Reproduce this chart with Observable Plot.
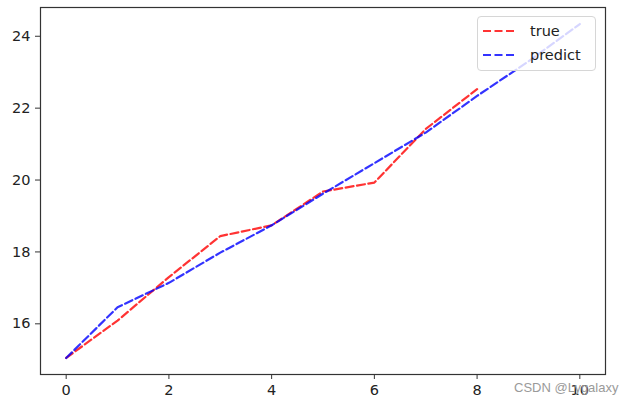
<!DOCTYPE html>
<html>
<head>
<meta charset="utf-8">
<script src="https://cdn.jsdelivr.net/npm/d3@7"></script>
<script src="https://cdn.jsdelivr.net/npm/@observablehq/plot@0.6"></script>
<style>
  html, body { margin: 0; padding: 0; background: #fff; }
  #wrap { position: relative; width: 631px; height: 405px; font-family: "DejaVu Sans", sans-serif; }
  #legend { position: absolute; left: 477px; top: 16px; width: 119px; height: 55px;
    background: rgba(255,255,255,0.8); border: 1px solid #d6d6d6; border-radius: 4px; box-sizing: border-box; }
  .item { position: absolute; left: 5px; height: 20px; display: flex; align-items: center; font-size: 14.5px; color: #222; }
  .item svg { margin-right: 13px; }
  #wm { position: absolute; left: 514px; top: 380px; font-family: "Liberation Sans", Arial, sans-serif; font-size: 13px; color: #9a9a9a; }
</style>
</head>
<body>
<div id="wrap"></div>
<script>
const xs = [0, 1, 2, 3, 4, 5, 6, 7, 8, 9, 10];
const trueVals = [15.05, 16.09, 17.30, 18.44, 18.74, 19.68, 19.93, 21.42, 22.53];
const predictVals = [15.05, 16.46, 17.14, 17.98, 18.74, 19.62, 20.47, 21.32, 22.34, 23.30, 24.34];
const seriesNames = ["true", "predict"];
const seriesColors = ["red", "blue"];
const xTicks = [0, 2, 4, 6, 8, 10];
const yTicks = [16, 18, 20, 22, 24];

const trueData = trueVals.map((v, i) => ({x: xs[i], y: v}));
const predData = predictVals.map((v, i) => ({x: xs[i], y: v}));

const dash = "8,3.5";
const chart = Plot.plot({
  width: 631,
  height: 405,
  marginLeft: 40,
  marginTop: 7,
  marginRight: 26,
  marginBottom: 31,
  style: {fontFamily: "DejaVu Sans, sans-serif", fontSize: "14.5px", color: "#222", background: "#fff"},
  x: {domain: [-0.5, 10.5]},
  y: {domain: [14.59, 24.8]},
  marks: [
    Plot.line(trueData, {x: "x", y: "y", stroke: seriesColors[0], strokeOpacity: 0.8, strokeWidth: 2.2, strokeDasharray: dash}),
    Plot.line(predData, {x: "x", y: "y", stroke: seriesColors[1], strokeOpacity: 0.8, strokeWidth: 2.2, strokeDasharray: dash}),
    Plot.frame({stroke: "#333", strokeWidth: 1.2}),
    Plot.axisX({ticks: xTicks, tickSize: 5, tickPadding: 5, label: null, stroke: "#333", fill: "#222", fontSize: 14.5}),
    Plot.axisY({ticks: yTicks, tickSize: 5, tickPadding: 5, label: null, stroke: "#333", fill: "#222", fontSize: 14.5})
  ]
});

const wrap = document.getElementById("wrap");
wrap.appendChild(chart);

const legend = document.createElement("div");
legend.id = "legend";
seriesNames.forEach((name, i) => {
  const it = document.createElement("div");
  it.className = "item";
  it.style.top = (4 + i * 24) + "px";
  it.innerHTML = `<svg width="34" height="6"><line x1="0" y1="3" x2="34" y2="3" stroke="${seriesColors[i]}" stroke-opacity="0.8" stroke-width="2.2" stroke-dasharray="${dash}"/></svg><span>${name}</span>`;
  legend.appendChild(it);
});
wrap.appendChild(legend);

const wm = document.createElement("div");
wm.id = "wm";
wm.textContent = "CSDN @Lygalaxy";
wrap.appendChild(wm);
</script>
</body>
</html>
